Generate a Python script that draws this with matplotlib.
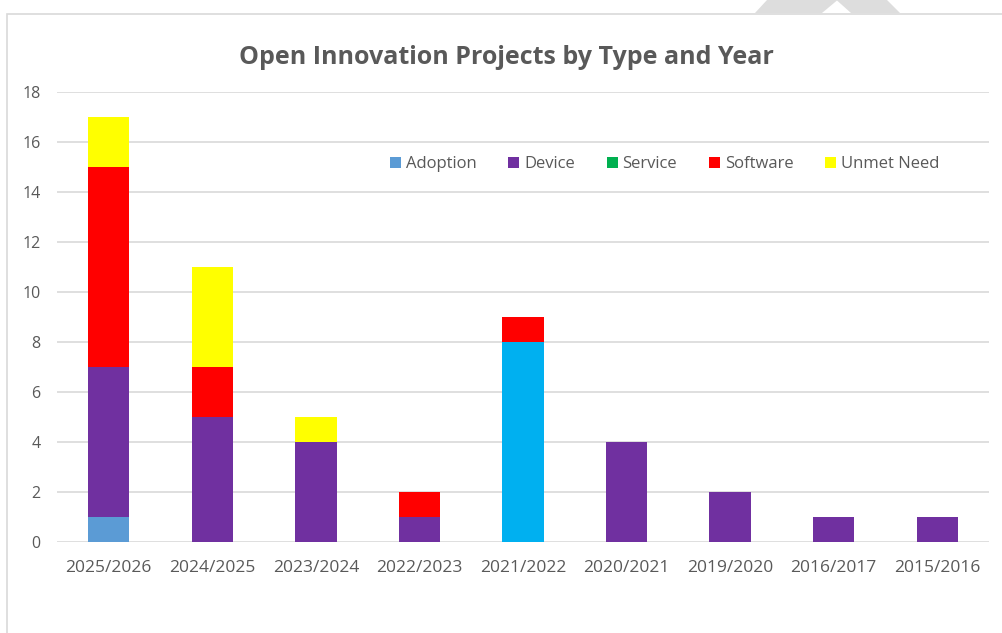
import matplotlib
matplotlib.use('Agg')
import matplotlib.pyplot as plt
import numpy as np
from matplotlib.patches import Polygon, Rectangle

# data
years = ['2025/2026', '2024/2025', '2023/2024', '2022/2023', '2021/2022',
         '2020/2021', '2019/2020', '2016/2017', '2015/2016']
adoption = [1, 0, 0, 0, 8, 0, 0, 0, 0]
device = [6, 5, 4, 1, 0, 4, 2, 1, 1]
service = [0, 0, 0, 0, 0, 0, 0, 0, 0]
software = [8, 2, 0, 1, 1, 0, 0, 0, 0]
unmet_need = [2, 4, 1, 0, 0, 0, 0, 0, 0]

series_names = ['Adoption', 'Device', 'Service', 'Software', 'Unmet Need']
series_vals = [adoption, device, service, software, unmet_need]
series_colors = ['#5B9BD5', '#7030A0', '#00B050', '#FF0000', '#FFFF00']

W, H = 1003, 633
fig = plt.figure(figsize=(W / 100, H / 100), dpi=100)
plt.rcParams['font.family'] = ['Open Sans', 'DejaVu Sans']

# chart border + grey shape peeking at top
def px(x, y):
    return (x / W, 1 - y / H)

fig.patches.append(Rectangle(px(7.5, 700), 1.2, (700 - 13.5) / H, transform=fig.transFigure,
                             fill=False, edgecolor='#D9D9D9', linewidth=1.2))
shape = [px(755, 13), px(767, 0), px(887, 0), px(900, 13), px(851, 13), px(837, 0.5), px(822, 13)]
fig.patches.append(Polygon(shape, closed=True, transform=fig.transFigure,
                           facecolor='#DDDDDD', edgecolor='none'))

ax = fig.add_axes([57 / W, 91 / H, 932 / W, 450 / H])
x = np.arange(len(years))
bottom = np.zeros(len(years))
for name, vals, col in zip(series_names, series_vals, series_colors):
    vals = np.array(vals, dtype=float)
    colors = [col] * len(years)
    if name == 'Adoption':
        colors[years.index('2021/2022')] = '#00B0F0'  # point colour override
    ax.bar(x, vals, 0.4, bottom=bottom, color=colors, label=name, zorder=3,
           edgecolor='none')
    bottom += vals

ax.set_xlim(-0.5, len(years) - 0.5)
ax.set_ylim(0, 18)
ax.set_yticks(range(0, 19, 2))
ax.set_xticks(x)
ax.set_xticklabels(years)
ax.tick_params(length=0, colors='#595959')
ax.tick_params(axis='y', pad=12, labelsize=11.5)
ax.tick_params(axis='x', pad=13, labelsize=12.5)
ax.grid(axis='y', color='#D9D9D9', linewidth=1.2, zorder=0)
for s in ax.spines.values():
    s.set_visible(False)

fig.text(506 / W, 1 - 57 / H, 'Open Innovation Projects by Type and Year',
         ha='center', va='center', fontsize=18, fontweight='bold', color='#595959')

ax.legend(loc='center', bbox_to_anchor=(0.652, 0.840), ncol=5, frameon=False,
          fontsize=12, handlelength=0.65, handleheight=0.65, handletextpad=0.3,
          columnspacing=1.9, labelcolor='#595959')

fig.savefig('out.png', dpi=100)
